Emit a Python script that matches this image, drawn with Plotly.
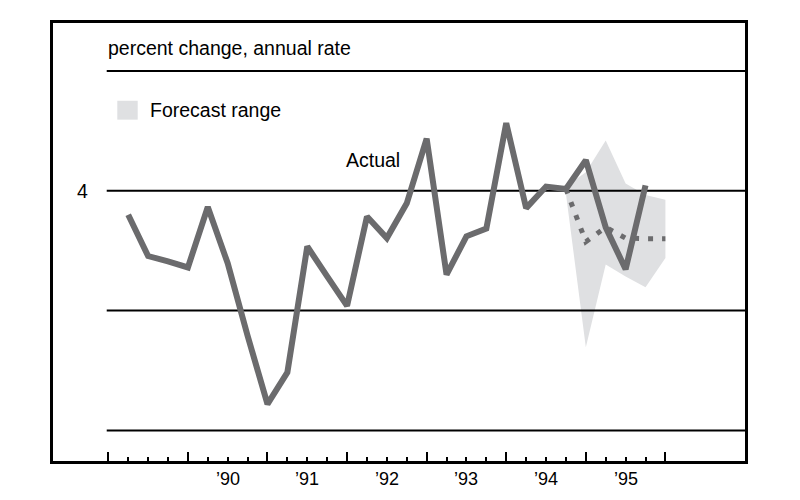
import plotly.graph_objects as go

# ---------------- data ----------------
actual_quarters = ["1989Q1", "1989Q2", "1989Q3", "1989Q4",
                   "1990Q1", "1990Q2", "1990Q3", "1990Q4",
                   "1991Q1", "1991Q2", "1991Q3", "1991Q4",
                   "1992Q1", "1992Q2", "1992Q3", "1992Q4",
                   "1993Q1", "1993Q2", "1993Q3", "1993Q4",
                   "1994Q1", "1994Q2", "1994Q3", "1994Q4",
                   "1995Q1", "1995Q2", "1995Q3"]
actual_values = [3.60, 2.91, 2.82, 2.72,
                 3.73, 2.79, 1.58, 0.44,
                 0.97, 3.07, 2.57, 2.08,
                 3.57, 3.21, 3.79, 4.87,
                 2.60, 3.24, 3.37, 5.13,
                 3.71, 4.07, 4.03, 4.51,
                 3.39, 2.69, 4.09]

forecast_quarters = ["1994Q3", "1994Q4", "1995Q1", "1995Q2", "1995Q3", "1995Q4"]
forecast_mid = [4.03, 3.15, 3.39, 3.21, 3.20, 3.20]
forecast_high = [4.07, 4.31, 4.84, 4.12, 3.93, 3.85]
forecast_low = [3.95, 1.39, 2.77, 2.57, 2.39, 2.88]

year_ticks = [1989, 1990, 1991, 1992, 1993, 1994, 1995, 1996]
year_labels = ["\u201990", "\u201991", "\u201992", "\u201993", "\u201994", "\u201995"]
grid_values = [0, 2, 4, 6]
y_label_values = [4]


def qpos(q):
    return int(q[:4]) + int(q[-1]) / 4.0


xa = [qpos(q) for q in actual_quarters]
xf = [qpos(q) for q in forecast_quarters]
minor_ticks = [y + i / 4.0 for y in year_ticks[:-1] for i in range(1, 4)]

LINE = "#6b6b6d"
SHADE = "#dfe0e2"
FONT = "Liberation Sans, Arial, sans-serif"

fig = go.Figure()

# forecast range
fig.add_trace(go.Scatter(x=xf, y=forecast_low, mode="lines",
                         line=dict(width=0, color=SHADE), hoverinfo="skip",
                         showlegend=False))
fig.add_trace(go.Scatter(x=xf, y=forecast_high, mode="lines", fill="tonexty",
                         fillcolor=SHADE, line=dict(width=0, color=SHADE),
                         hoverinfo="skip", showlegend=False))

# horizontal reference lines (above the shading, below the series)
X_GRID_START = 1988.98
X_RIGHT = 1997.0
for g in grid_values:
    fig.add_trace(go.Scatter(x=[X_GRID_START, X_RIGHT], y=[g, g], mode="lines",
                             line=dict(color="black", width=2), hoverinfo="skip",
                             showlegend=False, cliponaxis=False))

# forecast median (dotted)
fig.add_trace(go.Scatter(x=xf, y=forecast_mid, mode="lines",
                         line=dict(color=LINE, width=5, dash="5px,9px"),
                         hoverinfo="skip", showlegend=False))

# actual
fig.add_trace(go.Scatter(x=xa, y=actual_values, mode="lines",
                         line=dict(color=LINE, width=6), hoverinfo="skip",
                         showlegend=False))

# ---------------- layout ----------------
# the page body adds an 8px offset; the figure is sized to fit the window
OFF = 8
W, H = 792, 492
L, T = 53 - OFF, 20 - OFF
pw, ph = 692, 441
R, B = W - L - pw, H - T - ph


def px_x(p):
    return (p - OFF - L) / pw


def px_y(p):
    return (T + ph - (p - OFF)) / ph


annotations = []
for i, lab in enumerate(year_labels):
    annotations.append(dict(x=year_ticks[i + 1] + 0.5, y=0, xref="x", yref="paper",
                            text=lab, showarrow=False, yanchor="middle",
                            xanchor="center", yshift=-18,
                            font=dict(family=FONT, size=18, color="black")))
for v in y_label_values:
    annotations.append(dict(x=px_x(82), y=v, xref="paper", yref="y", text=str(v),
                            showarrow=False, xanchor="center", yanchor="middle",
                            font=dict(family=FONT, size=19.5, color="black")))
annotations.append(dict(x=px_x(106), y=px_y(45), xref="paper", yref="paper",
                        text="percent change, annual rate", showarrow=False,
                        xanchor="left", yanchor="middle",
                        font=dict(family=FONT, size=19.5, color="black")))
annotations.append(dict(x=px_x(148), y=px_y(108), xref="paper", yref="paper",
                        text="Forecast range", showarrow=False,
                        xanchor="left", yanchor="middle",
                        font=dict(family=FONT, size=19.5, color="black")))
annotations.append(dict(x=px_x(373), y=px_y(158), xref="paper", yref="paper",
                        text="Actual", showarrow=False,
                        xanchor="center", yanchor="middle",
                        font=dict(family=FONT, size=19.5, color="black")))

shapes = [dict(type="rect", xref="paper", yref="paper",
               x0=px_x(117.3), x1=px_x(137.7), y0=px_y(117.3), y1=px_y(98.3),
               fillcolor=SHADE, line=dict(width=0))]

fig.update_layout(
    width=W, height=H,
    margin=dict(l=L, r=R, t=T, b=B, pad=0),
    paper_bgcolor="white", plot_bgcolor="white",
    showlegend=False,
    annotations=annotations,
    shapes=shapes,
    xaxis=dict(range=[1988.305, X_RIGHT], showgrid=False, zeroline=False,
               tickmode="array", tickvals=year_ticks, ticks="inside",
               ticklen=9, tickwidth=2, tickcolor="black",
               showticklabels=False,
               minor=dict(tickmode="array", tickvals=minor_ticks, ticks="inside",
                          ticklen=4, tickwidth=2, tickcolor="black", showgrid=False),
               showline=True, linewidth=3, linecolor="black", mirror=True,
               fixedrange=True),
    yaxis=dict(range=[-0.51, 6.80], showgrid=False, zeroline=False,
               showticklabels=False, ticks="",
               showline=True, linewidth=3, linecolor="black", mirror=True,
               fixedrange=True),
)

fig.write_html("out.html")
